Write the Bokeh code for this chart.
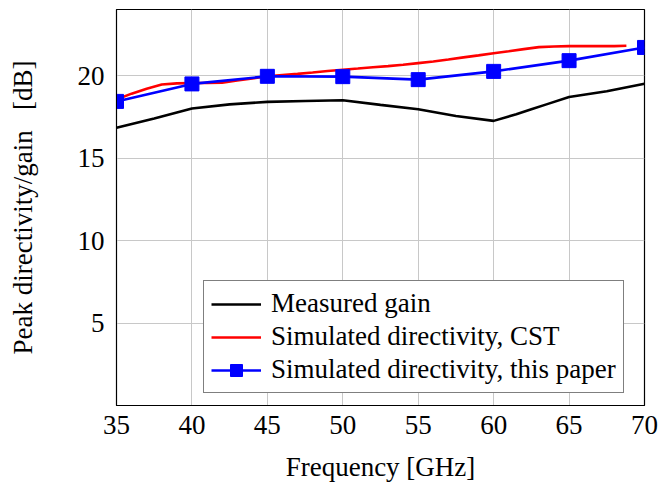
from bokeh.plotting import figure
from bokeh.models import ColumnDataSource, FixedTicker, Range1d, Legend, LegendItem
from bokeh.embed import file_html
from bokeh.resources import INLINE

# ---- data ----
meas_f = [35, 37.5, 40, 42.5, 45, 47.5, 50, 52.5, 55, 57.5, 60, 61.5, 62.5, 63.5, 65, 67.5, 70]
meas_g = [16.83, 17.4, 18.0, 18.25, 18.4, 18.45, 18.5, 18.22, 17.95, 17.55, 17.25, 17.65,
          17.95, 18.25, 18.7, 19.05, 19.5]

cst_f = [35, 36, 37, 38, 39, 40, 41, 42, 43, 44, 45, 46, 47, 48, 49, 50, 51, 52, 53, 54,
         55, 56, 57, 58, 59, 60, 61, 62, 63, 64, 65, 66, 67, 68, 68.8]
cst_d = [18.55, 18.9, 19.2, 19.45, 19.52, 19.55, 19.55, 19.57, 19.7, 19.82, 19.95, 20.03,
         20.1, 20.18, 20.27, 20.35, 20.42, 20.5, 20.57, 20.65, 20.75, 20.85, 20.97, 21.1,
         21.22, 21.35, 21.47, 21.6, 21.72, 21.76, 21.78, 21.78, 21.78, 21.78, 21.8]

paper_f = [35, 40, 45, 50, 55, 60, 65, 70]
paper_d = [18.43, 19.49, 19.95, 19.93, 19.75, 20.25, 20.9, 21.7]

x_ticks = [35, 40, 45, 50, 55, 60, 65, 70]
y_ticks = [5, 10, 15, 20]

labels = ["Measured gain", "Simulated directivity, CST", "Simulated directivity, this paper"]

FONT = "Liberation Serif"

p = figure(width=660, height=484, output_backend="svg", toolbar_location=None,
           x_range=Range1d(35, 70), y_range=Range1d(0, 24),
           min_border_left=116, min_border_right=16, min_border_top=9, min_border_bottom=76)

p.background_fill_color = "white"
p.border_fill_color = "white"
p.outline_line_color = "black"
p.outline_line_width = 1.2

for ax in (p.xaxis[0], p.yaxis[0]):
    ax.major_tick_in = 0
    ax.major_tick_out = 0
    ax.minor_tick_in = 0
    ax.minor_tick_out = 0
    ax.axis_line_color = "black"
    ax.major_label_text_font = FONT
    ax.major_label_text_font_size = "27px"
    ax.major_label_text_color = "black"
    ax.axis_label_text_font = FONT
    ax.axis_label_text_font_size = "27px"
    ax.axis_label_text_font_style = "normal"
    ax.axis_label_text_color = "black"

p.xaxis.ticker = FixedTicker(ticks=x_ticks)
p.yaxis.ticker = FixedTicker(ticks=y_ticks)
p.xaxis.axis_label = "Frequency [GHz]"
p.yaxis.axis_label = "Peak directivity/gain\u00a0\u00a0\u00a0[dB]"
p.xaxis.major_label_standoff = 10
p.xaxis.axis_label_standoff = 15
p.yaxis.major_label_standoff = 12
p.yaxis.axis_label_standoff = 37

p.xgrid.ticker = FixedTicker(ticks=x_ticks)
p.ygrid.ticker = FixedTicker(ticks=y_ticks)
p.grid.grid_line_color = "#c8c8c8"
p.grid.grid_line_width = 1

s_meas = ColumnDataSource(dict(x=meas_f, y=meas_g))
s_cst = ColumnDataSource(dict(x=cst_f, y=cst_d))
s_pap = ColumnDataSource(dict(x=paper_f, y=paper_d))

r1 = p.line("x", "y", source=s_meas, line_color="black", line_width=2.6)
r2 = p.line("x", "y", source=s_cst, line_color="#ff0000", line_width=2.6)
r3 = p.line("x", "y", source=s_pap, line_color="#0000ff", line_width=2.6)
r4 = p.scatter("x", "y", source=s_pap, marker="square", size=14,
               fill_color="#0000ff", line_color="#0000ff")

legend = Legend(items=[LegendItem(label=labels[0], renderers=[r1]),
                       LegendItem(label=labels[1], renderers=[r2]),
                       LegendItem(label=labels[2], renderers=[r3, r4])],
                location=(87, 12))
legend.label_text_font = FONT
legend.label_text_font_size = "27px"
legend.label_text_color = "black"
legend.glyph_width = 50
legend.glyph_height = 30
legend.label_height = 30
legend.spacing = 2
legend.padding = 7
legend.margin = 0
legend.label_standoff = 10
legend.border_line_color = "black"
legend.border_line_width = 1
legend.background_fill_alpha = 1
p.add_layout(legend, "center")

open("out.html", "w").write(file_html(p, INLINE))
